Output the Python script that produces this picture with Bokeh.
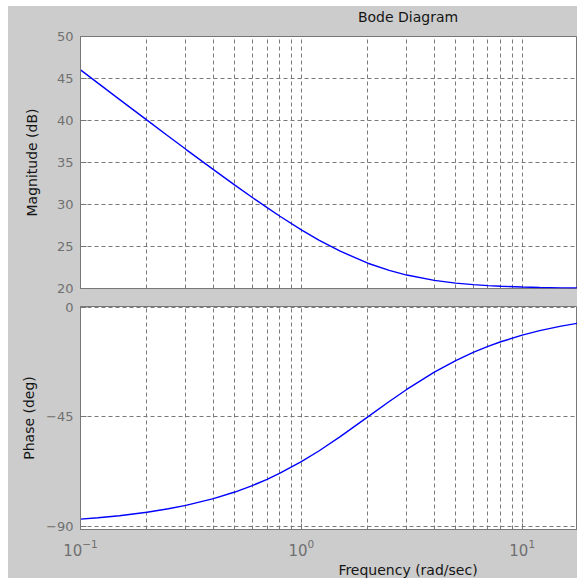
from bokeh.plotting import figure
from bokeh.layouts import column
from bokeh.models import FixedTicker, Label, LogTickFormatter, Range1d
from bokeh.embed import file_html
from bokeh.resources import INLINE

# ---- data ----
freq = [0.1, 0.12, 0.15, 0.2, 0.25, 0.3, 0.4, 0.5, 0.6, 0.7, 0.8, 1.0, 1.2,
        1.5, 2.0, 2.5, 3.0, 4.0, 5.0, 6.0, 7.0, 8.0, 10.0, 12.0, 15.0, 18.0]
mag_db = [46.03, 44.45, 42.52, 40.04, 38.13, 36.57, 34.15, 32.30, 30.83, 29.62,
          28.60, 26.99, 25.77, 24.44, 23.01, 22.15, 21.60, 20.97, 20.64, 20.46,
          20.34, 20.26, 20.17, 20.12, 20.08, 20.05]
phase_deg = [-87.14, -86.57, -85.71, -84.29, -82.87, -81.47, -78.69, -75.96,
             -73.30, -70.71, -68.20, -63.43, -59.04, -53.13, -45.00, -38.66,
             -33.69, -26.57, -21.80, -18.43, -15.95, -14.04, -11.31, -9.46,
             -7.59, -6.34]
mag_ticks = [20, 25, 30, 35, 40, 45, 50]
phase_ticks = [-90, -45, 0]
freq_major = [0.1, 1, 10]
freq_minor = [0.2, 0.3, 0.4, 0.5, 0.6, 0.7, 0.8, 0.9,
              2, 3, 4, 5, 6, 7, 8, 9]

BG = "#cccccc"
AX = "#777777"
GRID = "#7a7a7a"
TICKTXT = "#707070"
TXT = "#151515"
LINE = "#0000ff"
FONT = "DejaVu Sans"
W = 569
LEFT = 72

x_range = Range1d(0.1, 17.8)


def strip(height, text, x, y):
    s = figure(width=W, height=height, x_range=Range1d(LEFT, W),
               y_range=Range1d(0, height), output_backend="svg",
               toolbar_location=None, x_axis_location=None,
               y_axis_location=None, min_border=0, min_border_left=LEFT,
               outline_line_color=BG, outline_line_width=3,
               background_fill_color=BG, border_fill_color=BG)
    s.grid.visible = False
    s.add_layout(Label(x=x, y=y, text=text, text_align="center",
                       text_baseline="alphabetic", text_font=FONT,
                       text_font_size="14px", text_color=TXT))
    return s


def style(p, yticks):
    p.xaxis.ticker = FixedTicker(ticks=freq_major, minor_ticks=freq_minor)
    p.xgrid.ticker = FixedTicker(ticks=freq_major, minor_ticks=freq_minor)
    p.yaxis.ticker = FixedTicker(ticks=yticks)
    p.ygrid.ticker = FixedTicker(ticks=yticks)
    for g in (p.xgrid, p.ygrid):
        g.grid_line_color = GRID
        g.grid_line_dash = "4 3"
        g.grid_line_width = 1
    p.xgrid.minor_grid_line_color = GRID
    p.xgrid.minor_grid_line_dash = "4 3"
    for ax in (p.xaxis, p.yaxis):
        ax.axis_line_color = AX
        ax.major_tick_line_color = AX
        ax.major_tick_in = 6
        ax.major_tick_out = 0
        ax.minor_tick_in = 3
        ax.minor_tick_out = 0
        ax.major_label_text_color = TICKTXT
        ax.major_label_text_font = FONT
        ax.major_label_text_font_size = "13px"
        ax.axis_label_text_font = FONT
        ax.axis_label_text_font_size = "14px"
        ax.axis_label_text_font_style = "normal"
        ax.axis_label_text_color = TXT
    p.xaxis.minor_tick_line_color = AX
    p.yaxis.minor_tick_line_color = None
    p.yaxis.major_label_standoff = 7
    p.xaxis.major_label_standoff = 9
    p.xaxis.major_label_text_font_size = "15px"
    p.xaxis.formatter = LogTickFormatter()


common = dict(x_axis_type="log", x_range=x_range, output_backend="svg",
              toolbar_location=None, border_fill_color=BG,
              background_fill_color="white", outline_line_color=AX,
              min_border_left=LEFT, min_border_right=0, width=W)

# ---- title strip ----
top = strip(22, "Bode Diagram", 399.5, 12)

# ---- magnitude ----
p1 = figure(height=269, y_range=Range1d(20, 50),
            min_border_top=8, min_border_bottom=9, **common)
style(p1, mag_ticks)
p1.xaxis.visible = False
p1.yaxis.axis_label = "Magnitude (dB)"
p1.yaxis.axis_label_standoff = 14
p1.line(freq, mag_db, line_color=LINE, line_width=1.4)

# ---- phase ----
p2 = figure(height=263, y_range=Range1d(-91.4, 0.5),
            min_border_top=9, min_border_bottom=31, **common)
style(p2, phase_ticks)
p2.yaxis.axis_label = "Phase (deg)"
p2.yaxis.axis_label_standoff = 6
p2.line(freq, phase_deg, line_color=LINE, line_width=1.4)

# ---- x-axis label strip ----
bottom = strip(18, "Frequency (rad/sec)", 399.5, 9)

layout = column(top, p1, p2, bottom, spacing=0, margin=(6, 0, 7, 8),
                styles={"background-color": BG})

open("out.html", "w").write(file_html(layout, INLINE))
